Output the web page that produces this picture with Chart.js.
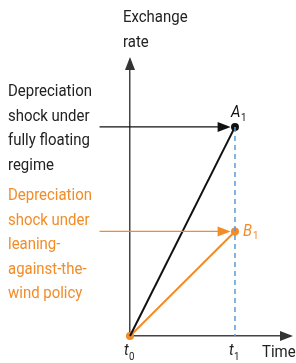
<!DOCTYPE html>
<html><head><meta charset="utf-8">
<script src="https://cdn.jsdelivr.net/npm/chart.js@4/dist/chart.umd.min.js"></script>
<style>html,body{margin:0;padding:0;background:#fff}#wrap{width:296px;height:363px}</style>
</head><body><div id="wrap"><canvas id="c"></canvas></div>
<script>
const times = [0, 1];            // t0, t1
const tickLabels = ['t', 't'];   // subscripts drawn separately
const tickSubs = ['0', '1'];
const floating = [0, 1];         // exchange rate under fully floating regime
const leaning = [0, 0.5];        // exchange rate under leaning-against-the-wind
const pointNames = ['A', 'B'];
const floatingText = ['Depreciation', 'shock under', 'fully floating', 'regime'];
const leaningText = ['Depreciation', 'shock under', 'leaning-', 'against-the-', 'wind policy'];
const yTitle = ['Exchange', 'rate'];
const xTitle = 'Time';
const ORANGE = '#f28c28';
const BLUE = '#5b9bd5';
const FONT = 'Roboto, "Liberation Sans", Arial, sans-serif';
const SX = 0.88;

const arrowStart = -0.29, arrowEnd = 0.93;

function txt(ctx, s, x, y, font, color) {
  ctx.save();
  ctx.font = font;
  ctx.fillStyle = color;
  ctx.translate(x, y);
  ctx.scale(SX, 1);
  ctx.fillText(s, 0, 0);
  ctx.restore();
}

const annot = {
  id: 'annot',
  afterDatasetsDraw(chart) {
    const ctx = chart.ctx, xs = chart.scales.x, ys = chart.scales.y;
    const ox = xs.getPixelForValue(0), oy = ys.getPixelForValue(0);
    const ca = chart.chartArea;
    ctx.save();
    // axes arrowheads
    ctx.fillStyle = '#333';
    ctx.beginPath();
    ctx.moveTo(ox, ca.top - 3); ctx.lineTo(ox - 5, ca.top + 10); ctx.lineTo(ox + 5, ca.top + 10); ctx.closePath(); ctx.fill();
    ctx.beginPath();
    ctx.moveTo(ca.right + 3, oy); ctx.lineTo(ca.right - 10, oy - 5); ctx.lineTo(ca.right - 10, oy + 5); ctx.closePath(); ctx.fill();
    // pointer arrowheads
    const ax = xs.getPixelForValue(arrowEnd);
    const yA = ys.getPixelForValue(floating[1]), yB = ys.getPixelForValue(leaning[1]);
    ctx.fillStyle = '#111';
    ctx.beginPath(); ctx.moveTo(ax + 3, yA); ctx.lineTo(ax - 10, yA - 5); ctx.lineTo(ax - 10, yA + 5); ctx.closePath(); ctx.fill();
    ctx.fillStyle = ORANGE;
    ctx.beginPath(); ctx.moveTo(ax + 3, yB); ctx.lineTo(ax - 10, yB - 5); ctx.lineTo(ax - 10, yB + 5); ctx.closePath(); ctx.fill();
    // texts
    ctx.textBaseline = 'middle';
    ctx.textAlign = 'left';
    const F = '17px ' + FONT, FI = 'italic 17px ' + FONT, FS = '11px ' + FONT;
    yTitle.forEach((t, i) => txt(ctx, t, 123, 18 + i * 25, F, '#222'));
    floatingText.forEach((t, i) => txt(ctx, t, 8, 92 + i * 24.5, F, '#222'));
    leaningText.forEach((t, i) => txt(ctx, t, 8, 196 + i * 24.5, F, ORANGE));
    txt(ctx, xTitle, 262, 353, F, '#222');
    // tick labels with subscripts
    times.forEach((v, i) => {
      const px = xs.getPixelForValue(v);
      txt(ctx, tickLabels[i], px - 6, 351, FI, '#222');
      txt(ctx, tickSubs[i], px - 1, 357, FS, '#222');
    });
    // point names
    const p1 = xs.getPixelForValue(1);
    txt(ctx, pointNames[0], p1 - 4, yA - 14, FI, '#111');
    txt(ctx, '1', p1 + 6, yA - 9, FS, '#111');
    txt(ctx, pointNames[1], p1 + 8, yB, FI, ORANGE);
    txt(ctx, '1', p1 + 18, yB + 5, FS, ORANGE);
    ctx.restore();
  }
};

new Chart(document.getElementById('c'), {
  type: 'scatter',
  data: {
    datasets: [
      { data: [{x: times[1], y: floating[1]}, {x: times[1], y: 0}], showLine: true, borderColor: BLUE, borderWidth: 1.5, borderDash: [5, 4], pointRadius: 0, clip: false },
      { data: [{x: arrowStart, y: floating[1]}, {x: arrowEnd - 0.05, y: floating[1]}], showLine: true, borderColor: '#111', borderWidth: 1.3, pointRadius: 0, clip: false },
      { data: [{x: arrowStart, y: leaning[1]}, {x: arrowEnd - 0.05, y: leaning[1]}], showLine: true, borderColor: ORANGE, borderWidth: 1.3, pointRadius: 0, clip: false },
      { data: times.map((t, i) => ({x: t, y: floating[i]})), showLine: true, borderColor: '#111', backgroundColor: '#111', borderWidth: 2, pointRadius: [0, 4], pointBorderWidth: 0, clip: false },
      { data: times.map((t, i) => ({x: t, y: leaning[i]})), showLine: true, borderColor: ORANGE, backgroundColor: ORANGE, borderWidth: 2, pointRadius: [4, 4], pointBorderWidth: 0, clip: false }
    ]
  },
  options: {
    responsive: true, maintainAspectRatio: false, animation: false,
    layout: { padding: { left: 130, right: 6, top: 60, bottom: 27 } },
    plugins: { legend: { display: false }, tooltip: { enabled: false } },
    scales: {
      x: { type: 'linear', min: 0, max: 1.524, ticks: { display: false }, grid: { display: false, drawTicks: false }, border: { display: true, color: '#444', width: 1.5 } },
      y: { type: 'linear', min: 0, max: 1.32, ticks: { display: false }, grid: { display: false, drawTicks: false }, border: { display: true, color: '#444', width: 1.5 } }
    }
  },
  plugins: [annot]
});
</script></body></html>
